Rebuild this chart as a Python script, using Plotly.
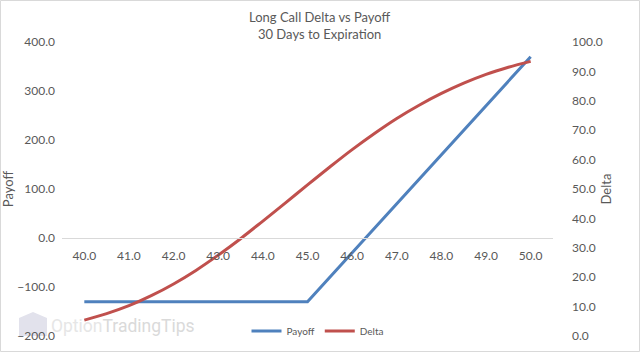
import plotly.graph_objects as go

# ---- data ----
price = [40.0, 41.0, 42.0, 43.0, 44.0, 45.0, 46.0, 47.0, 48.0, 49.0, 50.0]
payoff = [-130, -130, -130, -130, -130, -130, -30, 70, 170, 270, 370]

delta_price = [40.0, 40.5, 41.0, 41.5, 42.0, 42.5, 43.0, 43.5, 44.0, 44.5, 45.0,
               45.5, 46.0, 46.5, 47.0, 47.5, 48.0, 48.5, 49.0, 49.5, 50.0]
delta = [5.4, 7.6, 10.3, 13.7, 17.7, 22.3, 27.5, 33.1, 39.1, 45.2, 51.4,
         57.5, 63.4, 68.9, 74.0, 78.5, 82.5, 86.0, 89.0, 91.4, 93.4]

x_ticks = [40.0, 41.0, 42.0, 43.0, 44.0, 45.0, 46.0, 47.0, 48.0, 49.0, 50.0]
title_lines = ["Long Call Delta vs Payoff", "30 Days to Expiration"]

W, H = 640, 352
L, R, T, B = 62, 87, 42, 16
pw, ph = W - L - R, H - T - B
FONT = "Lato"
GREY = "#595959"


def px(x):
    return (x - L) / pw


def py(y):
    return (H - B - y) / ph


fig = go.Figure()
fig.add_trace(go.Scatter(x=price, y=payoff, name="Payoff", mode="lines",
                         line=dict(color="#4F81BD", width=3), yaxis="y"))
fig.add_trace(go.Scatter(x=delta_price, y=delta, name="Delta", mode="lines",
                         line=dict(color="#C0504D", width=3, shape="spline"),
                         yaxis="y2"))

fig.update_layout(
    width=W, height=H,
    margin=dict(l=L, r=R, t=T, b=B, autoexpand=False),
    paper_bgcolor="white", plot_bgcolor="white",
    font=dict(family=FONT, size=12, color=GREY),
    xaxis=dict(range=[39.5, 50.5], tickvals=x_ticks,
               ticktext=[f"{v:.1f}" for v in x_ticks],
               anchor="free", position=1 / 3, automargin=False,
               showline=True, linecolor="#d9d9d9", linewidth=1,
               showgrid=False, zeroline=False, ticks="",
               ticklabelstandoff=7,
               tickfont=dict(size=12, color=GREY)),
    yaxis=dict(range=[-200, 400], dtick=100, tickformat=".1f",
               showgrid=False, zeroline=False, showline=False,
               ticklabelstandoff=6, automargin=False,
               title=dict(text="Payoff", standoff=5,
                          font=dict(size=13, color=GREY)),
               tickfont=dict(size=12, color=GREY)),
    yaxis2=dict(range=[0, 100], dtick=10, tickformat=".1f",
                overlaying="y", side="right", automargin=False,
                showgrid=False, zeroline=False, showline=False,
                ticklabelstandoff=18,
                title=dict(text="Delta", standoff=0,
                           font=dict(size=13, color=GREY)),
                tickfont=dict(size=12, color=GREY)),
    legend=dict(orientation="h", x=px(318), xanchor="center",
                y=py(331), yanchor="middle",
                bgcolor="rgba(0,0,0,0)", font=dict(size=10, color=GREY),
                itemwidth=30, tracegroupgap=0),
    showlegend=True,
)

# title as centred two-line text
fig.add_annotation(text="<br>".join(title_lines), xref="paper", yref="paper",
                   x=px(320), y=py(25), xanchor="center",
                   yanchor="middle", showarrow=False, align="center",
                   font=dict(family=FONT, size=13, color=GREY))

# watermark icon and text
fig.add_shape(type="path", xref="paper", yref="paper", layer="below",
              path=(f"M {px(19)} {py(318)} L {px(33)} {py(312)} L {px(47)} {py(318)} "
                    f"L {px(47)} {py(336)} L {px(19)} {py(336)} Z"),
              fillcolor="#e2e2ec", line=dict(width=0))
fig.add_annotation(text="<span style='color:#e6e6e6'>Option</span>"
                        "<span style='color:#dadada'>TradingTips</span>",
                   xref="paper", yref="paper",
                   x=px(49), y=py(326), xanchor="left",
                   yanchor="middle", showarrow=False,
                   font=dict(family="Roboto", size=17.5, color="#e3e3e3"))

# outer border
fig.add_shape(type="rect", xref="paper", yref="paper",
              x0=px(0.5), x1=px(W - 0.5),
              y0=py(H - 0.5), y1=py(0.5),
              line=dict(color="#d9d9d9", width=1), layer="below")

fig.write_html("out.html")
